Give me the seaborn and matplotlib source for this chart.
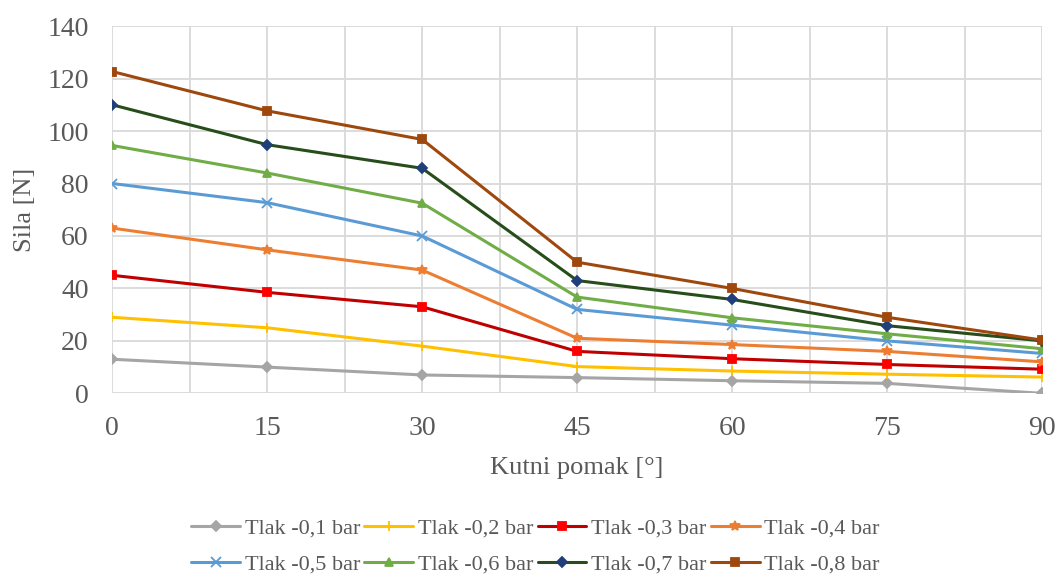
import numpy as np
import pandas as pd
import seaborn as sns
import matplotlib.pyplot as plt
from matplotlib.ticker import MultipleLocator

# Podaci ocitani s grafa
kut = [0, 15, 30, 45, 60, 75, 90]
tlak_01 = [13, 10, 7, 6, 4.8, 3.8, 0]
tlak_02 = [29, 25, 18, 10.2, 8.5, 7.3, 6.2]
tlak_03 = [45, 38.5, 33, 16, 13.2, 11, 9.2]
tlak_04 = [63, 54.7, 47, 21, 18.6, 16, 12]
tlak_05 = [80, 72.7, 60, 32, 26, 20, 15.2]
tlak_06 = [94.5, 84, 72.5, 36.7, 28.8, 22.7, 17]
tlak_07 = [110, 94.8, 85.8, 43, 35.8, 25.8, 20]
tlak_08 = [122.7, 107.7, 96.8, 50, 40, 29, 20.3]

nazivi = ["Tlak -0,1 bar", "Tlak -0,2 bar", "Tlak -0,3 bar", "Tlak -0,4 bar",
          "Tlak -0,5 bar", "Tlak -0,6 bar", "Tlak -0,7 bar", "Tlak -0,8 bar"]
serije = [tlak_01, tlak_02, tlak_03, tlak_04, tlak_05, tlak_06, tlak_07, tlak_08]

boje_linija = ["#A5A5A5", "#FFC000", "#C00000", "#ED7D31",
               "#5B9BD5", "#70AD47", "#264D1A", "#9E480E"]
boje_markera = ["#A5A5A5", "#FFC000", "#FF0000", "#ED7D31",
                "#5B9BD5", "#70AD47", "#1F3E7A", "#9E480E"]
markeri = ["D", "+", "s", "*", "x", "^", "D", "s"]

df = pd.DataFrame({
    "kut": kut * len(serije),
    "sila": np.concatenate(serije),
    "serija": np.repeat(nazivi, len(kut)),
})

sns.set_style("white")
plt.rcParams['font.family'] = ['Liberation Serif', 'DejaVu Serif']

fig, ax = plt.subplots(figsize=(10.59, 5.81), dpi=100)
fig.subplots_adjust(left=0.106, right=0.984, top=0.955, bottom=0.323)

for i, naziv in enumerate(nazivi):
    d = df[df["serija"] == naziv]
    sns.lineplot(data=d, x="kut", y="sila", ax=ax, color=boje_linija[i],
                 linewidth=2.2, marker=markeri[i],
                 markersize=7 if markeri[i] in ("*", "+", "x") else 5.5,
                 markerfacecolor=boje_markera[i], markeredgecolor=boje_markera[i],
                 markeredgewidth=1.3, label=naziv)

ax.set_xlim(0, 90)
ax.set_ylim(0, 140)
ax.xaxis.set_major_locator(MultipleLocator(15))
ax.xaxis.set_minor_locator(MultipleLocator(7.5))
ax.yaxis.set_major_locator(MultipleLocator(20))
ax.grid(which="both", axis="x", color="#D9D9D9", linewidth=1.3)
ax.grid(which="major", axis="y", color="#D9D9D9", linewidth=1.3)
ax.set_axisbelow(True)
for s in ax.spines.values():
    s.set_visible(False)
ax.tick_params(axis="both", which="both", length=0, labelsize=20, colors="#595959")
ax.tick_params(axis="y", pad=17)
ax.tick_params(axis="x", pad=16)
ax.set_xlabel("Kutni pomak [°]", fontsize=19, color="#595959", labelpad=12)
ax.set_ylabel("Sila [N]", fontsize=19, color="#595959", labelpad=8)

# legenda po redovima (kao u Excelu)
h, l = ax.get_legend_handles_labels()
red = [0, 4, 1, 5, 2, 6, 3, 7]
ax.legend([h[k] for k in red], [l[k] for k in red],
          loc="upper center", bbox_to_anchor=(0.455, -0.285), ncol=4, frameon=False,
          prop={"family": "Liberation Serif", "size": 16},
          handlelength=2.2, handletextpad=0.2, columnspacing=0.2,
          labelspacing=0.7, labelcolor="#595959")

fig.savefig("out.png", dpi=100)
